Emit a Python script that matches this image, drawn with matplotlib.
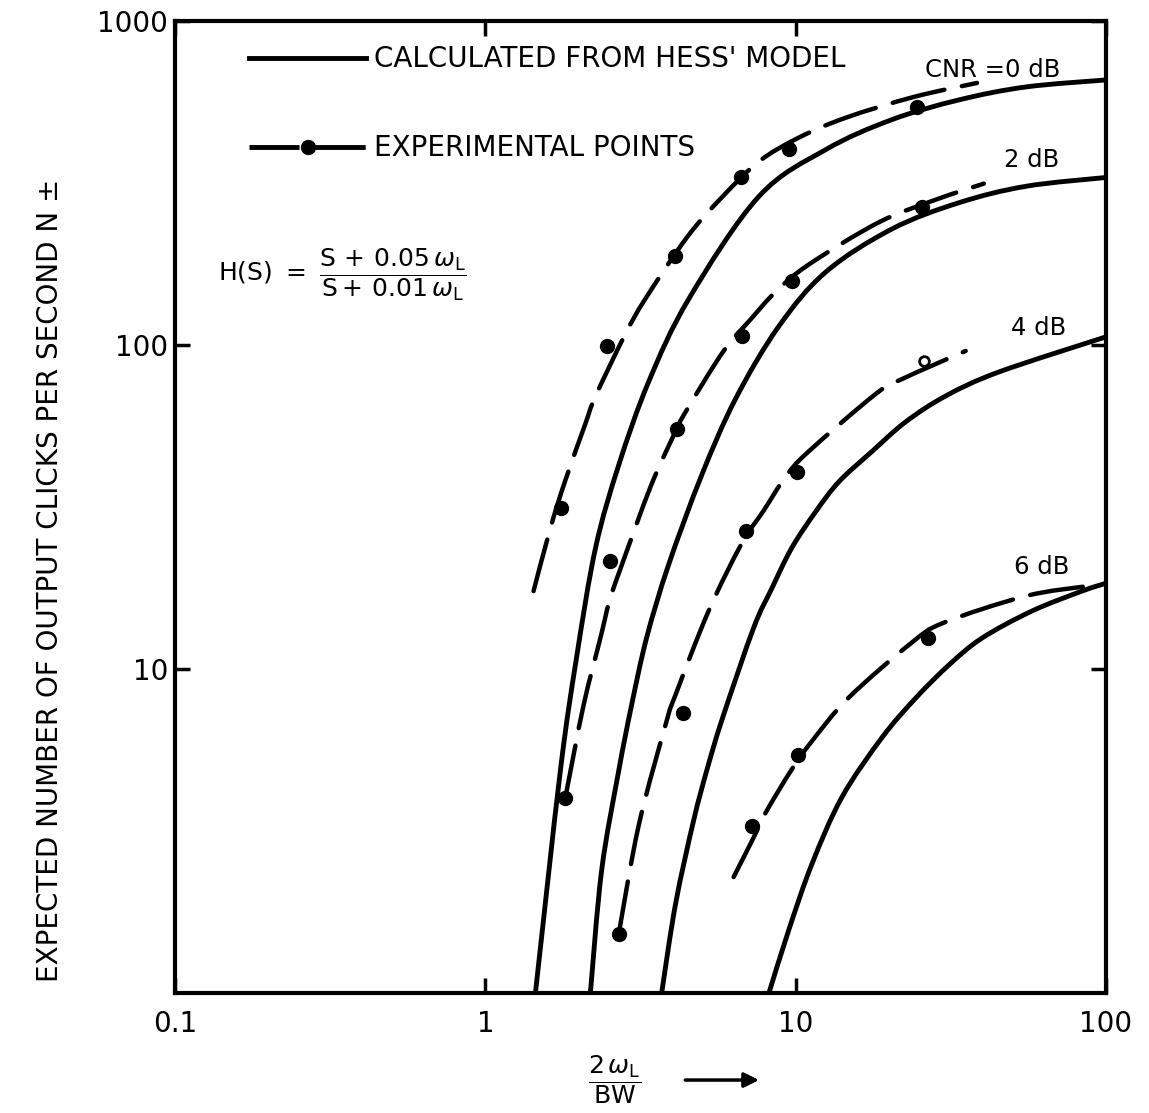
import numpy as np
import matplotlib
matplotlib.use("Agg")
import matplotlib.pyplot as plt
from matplotlib.lines import Line2D
from matplotlib.path import Path
from matplotlib.patches import PathPatch, FancyArrowPatch

plt.rcParams["font.family"] = "DejaVu Sans"
plt.rcParams["mathtext.fontset"] = "dejavusans"

# calculated from Hess' model (solid curves)
calc_0db_x = [1.45, 1.745, 1.966, 2.264, 2.686, 3.357, 4.518, 7.598, 12.5, 20.4, 33.6, 55.2, 100]
calc_0db_y = [1.0, 4.86, 10.8, 23.6, 42.4, 76.9, 138.5, 287, 401, 496, 571, 626, 658]

calc_2db_x = [2.18, 2.37, 2.69, 2.96, 3.31, 3.89, 4.97, 6.40, 8.81, 12.5, 20.4, 33.6, 55.2, 100]
calc_2db_y = [1.0, 2.39, 4.85, 7.74, 12.5, 20.9, 39.5, 68.2, 114, 168, 228, 275, 309, 329]

calc_4db_x = [3.70, 4.10, 4.69, 5.20, 5.815, 7.32, 8.37, 9.70, 11.6, 13.8, 17.6, 22.6, 30.5, 45.2, 100]
calc_4db_y = [1.0, 1.88, 3.41, 4.96, 7.07, 13.4, 17.7, 23.6, 30.6, 37.9, 46.9, 57.9, 69.7, 82.6, 106]

calc_6db_x = [8.2, 9.49, 11.26, 14.07, 18.94, 24.38, 31.2, 39.8, 57.7, 83.7, 100]
calc_6db_y = [1.0, 1.56, 2.49, 4.01, 6.13, 8.14, 10.3, 12.45, 15.1, 17.4, 18.4]

# experimental: dashed line drawn through the points
exp_line_0db_x = [1.43, 1.62, 1.81, 2.10, 2.26, 2.81, 3.28, 4.48, 5.77, 7.6, 10.2, 14.5, 24.0, 38.4]
exp_line_0db_y = [17.4, 27.2, 38.2, 57.1, 69.2, 107, 139, 216, 285, 368, 436, 503, 583, 644]
exp_line_2db_x = [1.81, 2.07, 2.35, 2.51, 2.73, 3.41, 4.04, 4.42, 5.86, 7.16, 8.62, 11.0, 18.5, 28.3, 40.4]
exp_line_2db_y = [4.0, 7.69, 12.5, 16.2, 20.5, 36.6, 52.5, 62.2, 95.9, 120, 146, 177, 239, 281, 315]
exp_line_4db_x = [2.69, 3.12, 3.84, 4.10, 5.24, 6.70, 7.88, 9.29, 11.0, 18.1, 22.0, 35.3]
exp_line_4db_y = [1.52, 3.29, 6.92, 8.32, 15.1, 24.4, 30.8, 39.3, 46.9, 70.6, 78.5, 95.9]
exp_line_6db_x = [6.31, 7.32, 8.0, 9.70, 11.3, 14.8, 23.5, 30.0, 55.2, 86.1]
exp_line_6db_y = [2.28, 3.02, 3.6, 4.89, 6.0, 8.15, 12.0, 13.9, 16.8, 18.0]

# experimental points
exp_0db_x = [1.75, 2.46, 4.07, 6.65, 9.49, 24.6]
exp_0db_y = [31.3, 99, 188, 331, 404, 543]
exp_2db_x = [1.81, 2.53, 4.16, 6.70, 9.70, 25.5]
exp_2db_y = [4.0, 21.5, 55.2, 107, 158, 266]
exp_4db_x = [2.69, 4.35, 6.90, 10.1, 25.9]
exp_4db_y = [1.52, 7.33, 26.6, 40.6, 89.3]
exp_6db_x = [7.21, 10.2, 26.7]
exp_6db_y = [3.27, 5.43, 12.5]

curve_labels = ["CNR =0 dB", "2 dB", "4 dB", "6 dB"]
label_x = [43, 57.7, 60.8, 62.1]
label_y = [706, 372, 113, 20.6]

x_ticks = [0.1, 1, 10, 100]
x_ticklabels = ["0.1", "1", "10", "100"]
y_ticks = [10, 100, 1000]
y_ticklabels = ["10", "100", "1000"]


def smooth_path(xs, ys):
    # bezier (catmull-rom) through the read points, done in log space
    pts = np.column_stack([np.log10(xs), np.log10(ys)])
    n = len(pts)
    verts = [pts[0]]
    codes = [Path.MOVETO]
    for i in range(n - 1):
        p0 = pts[i - 1] if i > 0 else pts[i]
        p1, p2 = pts[i], pts[i + 1]
        p3 = pts[i + 2] if i + 2 < n else pts[i + 1]
        verts += [p1 + (p2 - p0) / 6, p2 - (p3 - p1) / 6, p2]
        codes += [Path.CURVE4] * 3
    return Path(10 ** np.array(verts), codes)


fig = plt.figure(figsize=(11.49, 11.13), dpi=100)
ax = fig.add_axes([0.1523, 0.1078, 0.8103, 0.8733])
ax.set_xscale("log")
ax.set_yscale("log")
ax.set_xlim(0.1, 100)
ax.set_ylim(1, 1000)

calc = [(calc_0db_x, calc_0db_y), (calc_2db_x, calc_2db_y),
        (calc_4db_x, calc_4db_y), (calc_6db_x, calc_6db_y)]
for cx, cy in calc:
    ax.add_patch(PathPatch(smooth_path(cx, cy), fill=False, ec="k", lw=3.5,
                           capstyle="butt"))

exp_lines = [(exp_line_0db_x, exp_line_0db_y), (exp_line_2db_x, exp_line_2db_y),
             (exp_line_4db_x, exp_line_4db_y), (exp_line_6db_x, exp_line_6db_y)]
for ex, ey in exp_lines:
    ax.add_patch(PathPatch(smooth_path(ex, ey), fill=False, ec="k", lw=3.2,
                           ls=(0, (12, 4)), capstyle="round"))

for px, py in [(exp_0db_x, exp_0db_y), (exp_2db_x, exp_2db_y), (exp_6db_x, exp_6db_y)]:
    ax.plot(px, py, "o", color="k", ms=10, ls="none")
# last 4 dB point is drawn open in the original
ax.plot(exp_4db_x[:-1], exp_4db_y[:-1], "o", color="k", ms=10, ls="none")
ax.plot(exp_4db_x[-1:], exp_4db_y[-1:], "o", mfc="white", mec="k", mew=2, ms=7, ls="none")

for lab, lx, ly in zip(curve_labels, label_x, label_y):
    ax.text(lx, ly, lab, fontsize=17.5, ha="center", va="center")

ax.set_xticks(x_ticks)
ax.set_xticklabels(x_ticklabels)
ax.set_yticks(y_ticks)
ax.set_yticklabels(y_ticklabels)
ax.xaxis.set_minor_locator(matplotlib.ticker.NullLocator())
ax.yaxis.set_minor_locator(matplotlib.ticker.NullLocator())
ax.tick_params(which="major", direction="in", length=11, width=2.5,
               top=True, right=True, labelsize=20)
ax.tick_params(axis="x", pad=12)
ax.tick_params(axis="y", pad=5)
for sp in ax.spines.values():
    sp.set_linewidth(3)

# legend
h1 = Line2D([], [], color="k", lw=3.5)
h2 = Line2D([], [], color="k", lw=3.5, ls=(0, (10.3, 3.3)), marker="o", ms=10)
ax.legend([h1, h2], ["CALCULATED FROM HESS' MODEL", "EXPERIMENTAL POINTS"],
          loc="upper left", bbox_to_anchor=(0.08, 0.975), frameon=False,
          fontsize=20, handlelength=4.2, handletextpad=0.3, labelspacing=2.2,
          borderpad=0, borderaxespad=0, numpoints=1)

# transfer function
ax.text(0.046, 0.739,
        r"$\mathrm{H(S)}\ =\ \dfrac{\mathrm{S}\,+\,0.05\,\omega_{\mathrm{L}}}{\mathrm{S}+\,0.01\,\omega_{\mathrm{L}}}$",
        transform=ax.transAxes, fontsize=18, ha="left", va="center")

# axis titles
fig.text(0.0435, 0.479, "EXPECTED NUMBER OF OUTPUT CLICKS PER SECOND N \u00b1",
         rotation=90, ha="center", va="center", fontsize=20)
fig.text(0.535, 0.0296, r"$\dfrac{2\,\omega_{\mathrm{L}}}{\mathrm{BW}}$",
         ha="center", va="center", fontsize=18)
fig.patches.append(FancyArrowPatch(
    (0.594, 0.0296), (0.663, 0.0296), transform=fig.transFigure,
    arrowstyle="-|>", mutation_scale=22, lw=2.5, color="k"))

fig.savefig("out.png", dpi=100)
